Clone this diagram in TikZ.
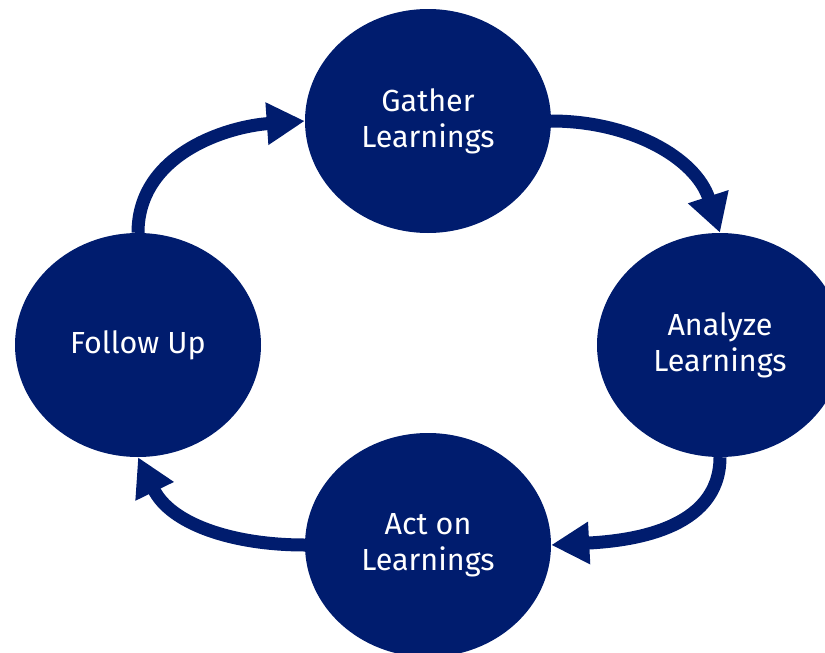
\documentclass[tikz,border=0pt]{standalone}
\usepackage{fontspec}
\setmainfont{Fira Sans}
\usetikzlibrary{shapes.geometric,arrows.meta}
\definecolor{navy}{RGB}{0,28,110}
\tikzset{
  stage/.style={ellipse, fill=navy, draw=none, inner sep=0pt,
    minimum width=246pt, minimum height=224pt, text=white, align=center,
    font=\fontsize{30.5}{36}\selectfont},
  flow/.style={draw=navy, line width=13pt,
    -{Triangle[length=38pt,width=40pt]}}
}
\begin{document}
\begin{tikzpicture}[x=1pt,y=1pt]
  \useasboundingbox (0,0) rectangle (825,-653);
  \node[stage] (gather)  at (428,-121) {Gather\\Learnings};
  \node[stage] (analyze) at (720,-345) {Analyze\\Learnings};
  \node[stage] (act)     at (428,-545) {Act on\\Learnings};
  \node[stage] (follow)  at (138,-345) {Follow Up};
  \draw[flow] (gather.east) to[out=0,in=108] (analyze.north);
  \draw[flow] (analyze.south) to[out=-90,in=3] (act.east);
  \draw[flow] (act.west) to[out=180,in=-64] (follow.south);
  \draw[flow] (follow.north) to[out=90,in=184] (gather.west);
\end{tikzpicture}
\end{document}
